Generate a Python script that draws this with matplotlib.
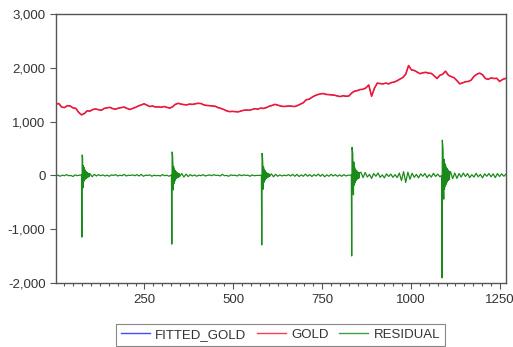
import numpy as np
import matplotlib
matplotlib.use("Agg")
import matplotlib.pyplot as plt
from matplotlib.ticker import MultipleLocator, FuncFormatter

plt.rcParams['font.family'] = ['Liberation Sans', 'DejaVu Sans']

## GOLD, read every 8 obs (obs 1..1265)
gold_step = 8
gold_val = [
    1325, 1335, 1270, 1260, 1295, 1290, 1255, 1245, 1170, 1125,
    1150, 1200, 1195, 1225, 1235, 1220, 1210, 1245, 1255, 1265,
    1240, 1230, 1250, 1260, 1270, 1245, 1225, 1245, 1265, 1290,
    1310, 1330, 1305, 1280, 1290, 1270, 1275, 1265, 1280, 1265,
    1250, 1275, 1320, 1340, 1325, 1315, 1310, 1325, 1320, 1330,
    1340, 1335, 1310, 1300, 1295, 1290, 1285, 1260, 1245, 1225,
    1200, 1185, 1190, 1185, 1180, 1195, 1210, 1215, 1210, 1225,
    1240, 1230, 1250, 1245, 1260, 1285, 1300, 1320, 1305, 1290,
    1280, 1285, 1290, 1285, 1280, 1300, 1325, 1350, 1405, 1415,
    1450, 1480, 1500, 1515, 1520, 1505, 1500, 1495, 1490, 1475,
    1465, 1480, 1470, 1475, 1530, 1565, 1575, 1595, 1600, 1625,
    1680, 1470, 1620, 1715, 1705, 1700, 1715, 1700, 1725, 1735,
    1760, 1790, 1820, 1880, 2040, 1960, 1950, 1920, 1890, 1905,
    1915, 1900, 1895, 1850, 1800, 1860, 1880, 1935, 1860, 1835,
    1815, 1760, 1700, 1720, 1740, 1745, 1770, 1840, 1880, 1900,
    1870, 1800, 1785, 1810, 1800, 1805, 1745, 1780, 1800,
]
# fitted values sit right on top of the actual series in the picture
fitted_gold = list(gold_val)

## RESIDUAL: quiet part read every 6 obs (obs 1..1267)
resid_step = 6
resid_quiet = [
    -10, 5, -15, 5, -5, 15, -5, 0, -20, 10, -5, 5,
    0, 0, 0, 0, 30, -25, 20, -10, 15, -5, 10, -10,
    5, -15, 10, 0, 15, -10, 5, -5, 20, -10, 5, 0,
    10, -5, 15, -10, 20, -15, 5, 0, 10, -15, 5, -5,
    0, -10, 15, -5, 5, -15, 5, 0, 0, 0, 0, 35,
    -30, 25, -20, 15, -10, 10, -15, 5, -5, 15, -10, 0,
    10, -5, 15, 0, 5, -10, 20, -5, 0, -15, 10, 0,
    5, -10, 15, -5, 10, 0, 5, -15, 10, -5, 0, 0,
    5, 0, 0, 0, 0, 30, -25, 20, -15, 10, -10, 5,
    -5, 15, -10, 20, -15, 20, -20, 10, -15, 25, -15, 15,
    -20, 15, -10, 25, -15, 20, -25, 10, -15, 20, -10, 15,
    -15, 10, -15, 15, -10, 5, 5, 0, 0, 0, 0, 60,
    -40, 55, -30, 20, -55, 35, -15, 45, -35, 10, -45, 30,
    -20, 25, -35, 15, -40, 45, -95, 70, -130, 60, -70, 40,
    -35, 20, -45, 30, -15, 35, -40, 15, -30, 40, -20, 25,
    -25, 0, 0, 0, 0, 70, -60, 45, -55, 35, -30, 45,
    -20, 35, -40, 15, -30, 40, -25, 20, -45, 30, -15, 35,
    -25, 30, -40, 35, -20, 30, -15, 25,
]

## RESIDUAL around the five breaks, every obs
spike_start = [73, 326, 579, 832, 1086]
spike_vals = [
    [10, -1145, 380, 330, -230, 180, -120, 150, -90, 110, -70, 85,
     -60, 70, -45, 55, -40, 45, -30, 40, -25, 35, -20, 25],
    [5, -1275, 435, 380, 225, -270, 170, -150, 120, -110, 95, -80,
     75, -60, 60, -45, 50, -40, 40, -35, 35, -25, 30, -20],
    [0, -1290, 410, 350, 200, -255, 160, -130, 115, -100, 90, -75,
     70, -55, 55, -45, 45, -35, 35, -30, 30, -25, 25, -20],
    [10, -1495, 520, 470, 400, -200, -360, 250, -180, 160, -140, 120,
     -100, 100, -85, 80, -70, 75, -60, 60, -55, 50, -45, 45],
    [0, -1900, 655, 560, 475, -250, -440, 300, -260, 220, -200, 190,
     -170, 150, -140, 130, -110, 110, -95, 90, -80, 75, -70, 65],
]

## Build series
gold_x = np.arange(1, 1 + gold_step * len(gold_val), gold_step)

qx = np.arange(1, 1 + resid_step * len(resid_quiet), resid_step)
qy = np.array(resid_quiet, dtype=float)
keep = np.ones(len(qx), dtype=bool)
for s, v in zip(spike_start, spike_vals):
    keep &= ~((qx >= s) & (qx < s + len(v)))
rx = list(qx[keep])
ry = list(qy[keep])
for s, v in zip(spike_start, spike_vals):
    rx += list(range(s, s + len(v)))
    ry += v
order = np.argsort(rx)
rx = np.array(rx)[order]
ry = np.array(ry)[order]

## Plot
fig = plt.figure(figsize=(5.13, 3.47), dpi=100)
ax = fig.add_axes([0.109, 0.184, 0.878, 0.776])

ax.plot(gold_x, fitted_gold, color='#2020ff', lw=0.5, label='FITTED_GOLD')
ax.plot(gold_x, gold_val, color='#ee1838', lw=1.2, label='GOLD')
ax.plot(rx, ry, color='#1a8a1a', lw=0.9, label='RESIDUAL')

ax.set_xlim(1, 1268)
ax.set_ylim(-2000, 3000)
ax.xaxis.set_major_locator(MultipleLocator(250))
ax.xaxis.set_minor_locator(MultipleLocator(25))
ax.yaxis.set_major_locator(MultipleLocator(1000))
ax.yaxis.set_major_formatter(FuncFormatter(lambda v, p: f"{v:,.0f}"))

for sp in ax.spines.values():
    sp.set_color('#555555')
    sp.set_linewidth(1.0)
ax.tick_params(axis='both', which='major', length=4, width=0.8,
               color='#555555', labelsize=9.5, labelcolor='#333333')
ax.tick_params(axis='x', which='minor', length=2.5, width=0.8, color='#555555')

leg = fig.legend(loc='center', bbox_to_anchor=(0.547, 0.035), ncol=3,
                 fontsize=9.5, handlelength=2.2, handletextpad=0.4,
                 columnspacing=0.8, fancybox=False, framealpha=1,
                 edgecolor='#888888', borderpad=0.35)
leg.get_frame().set_linewidth(0.8)
# legend swatches all drawn thin, in lighter tones
for ln, c in zip(leg.get_lines(), ['#4a4aff', '#ff4050', '#40a040']):
    ln.set_linewidth(1.0)
    ln.set_color(c)
for t in leg.get_texts():
    t.set_color('#333333')

fig.savefig('out.png', dpi=100)
